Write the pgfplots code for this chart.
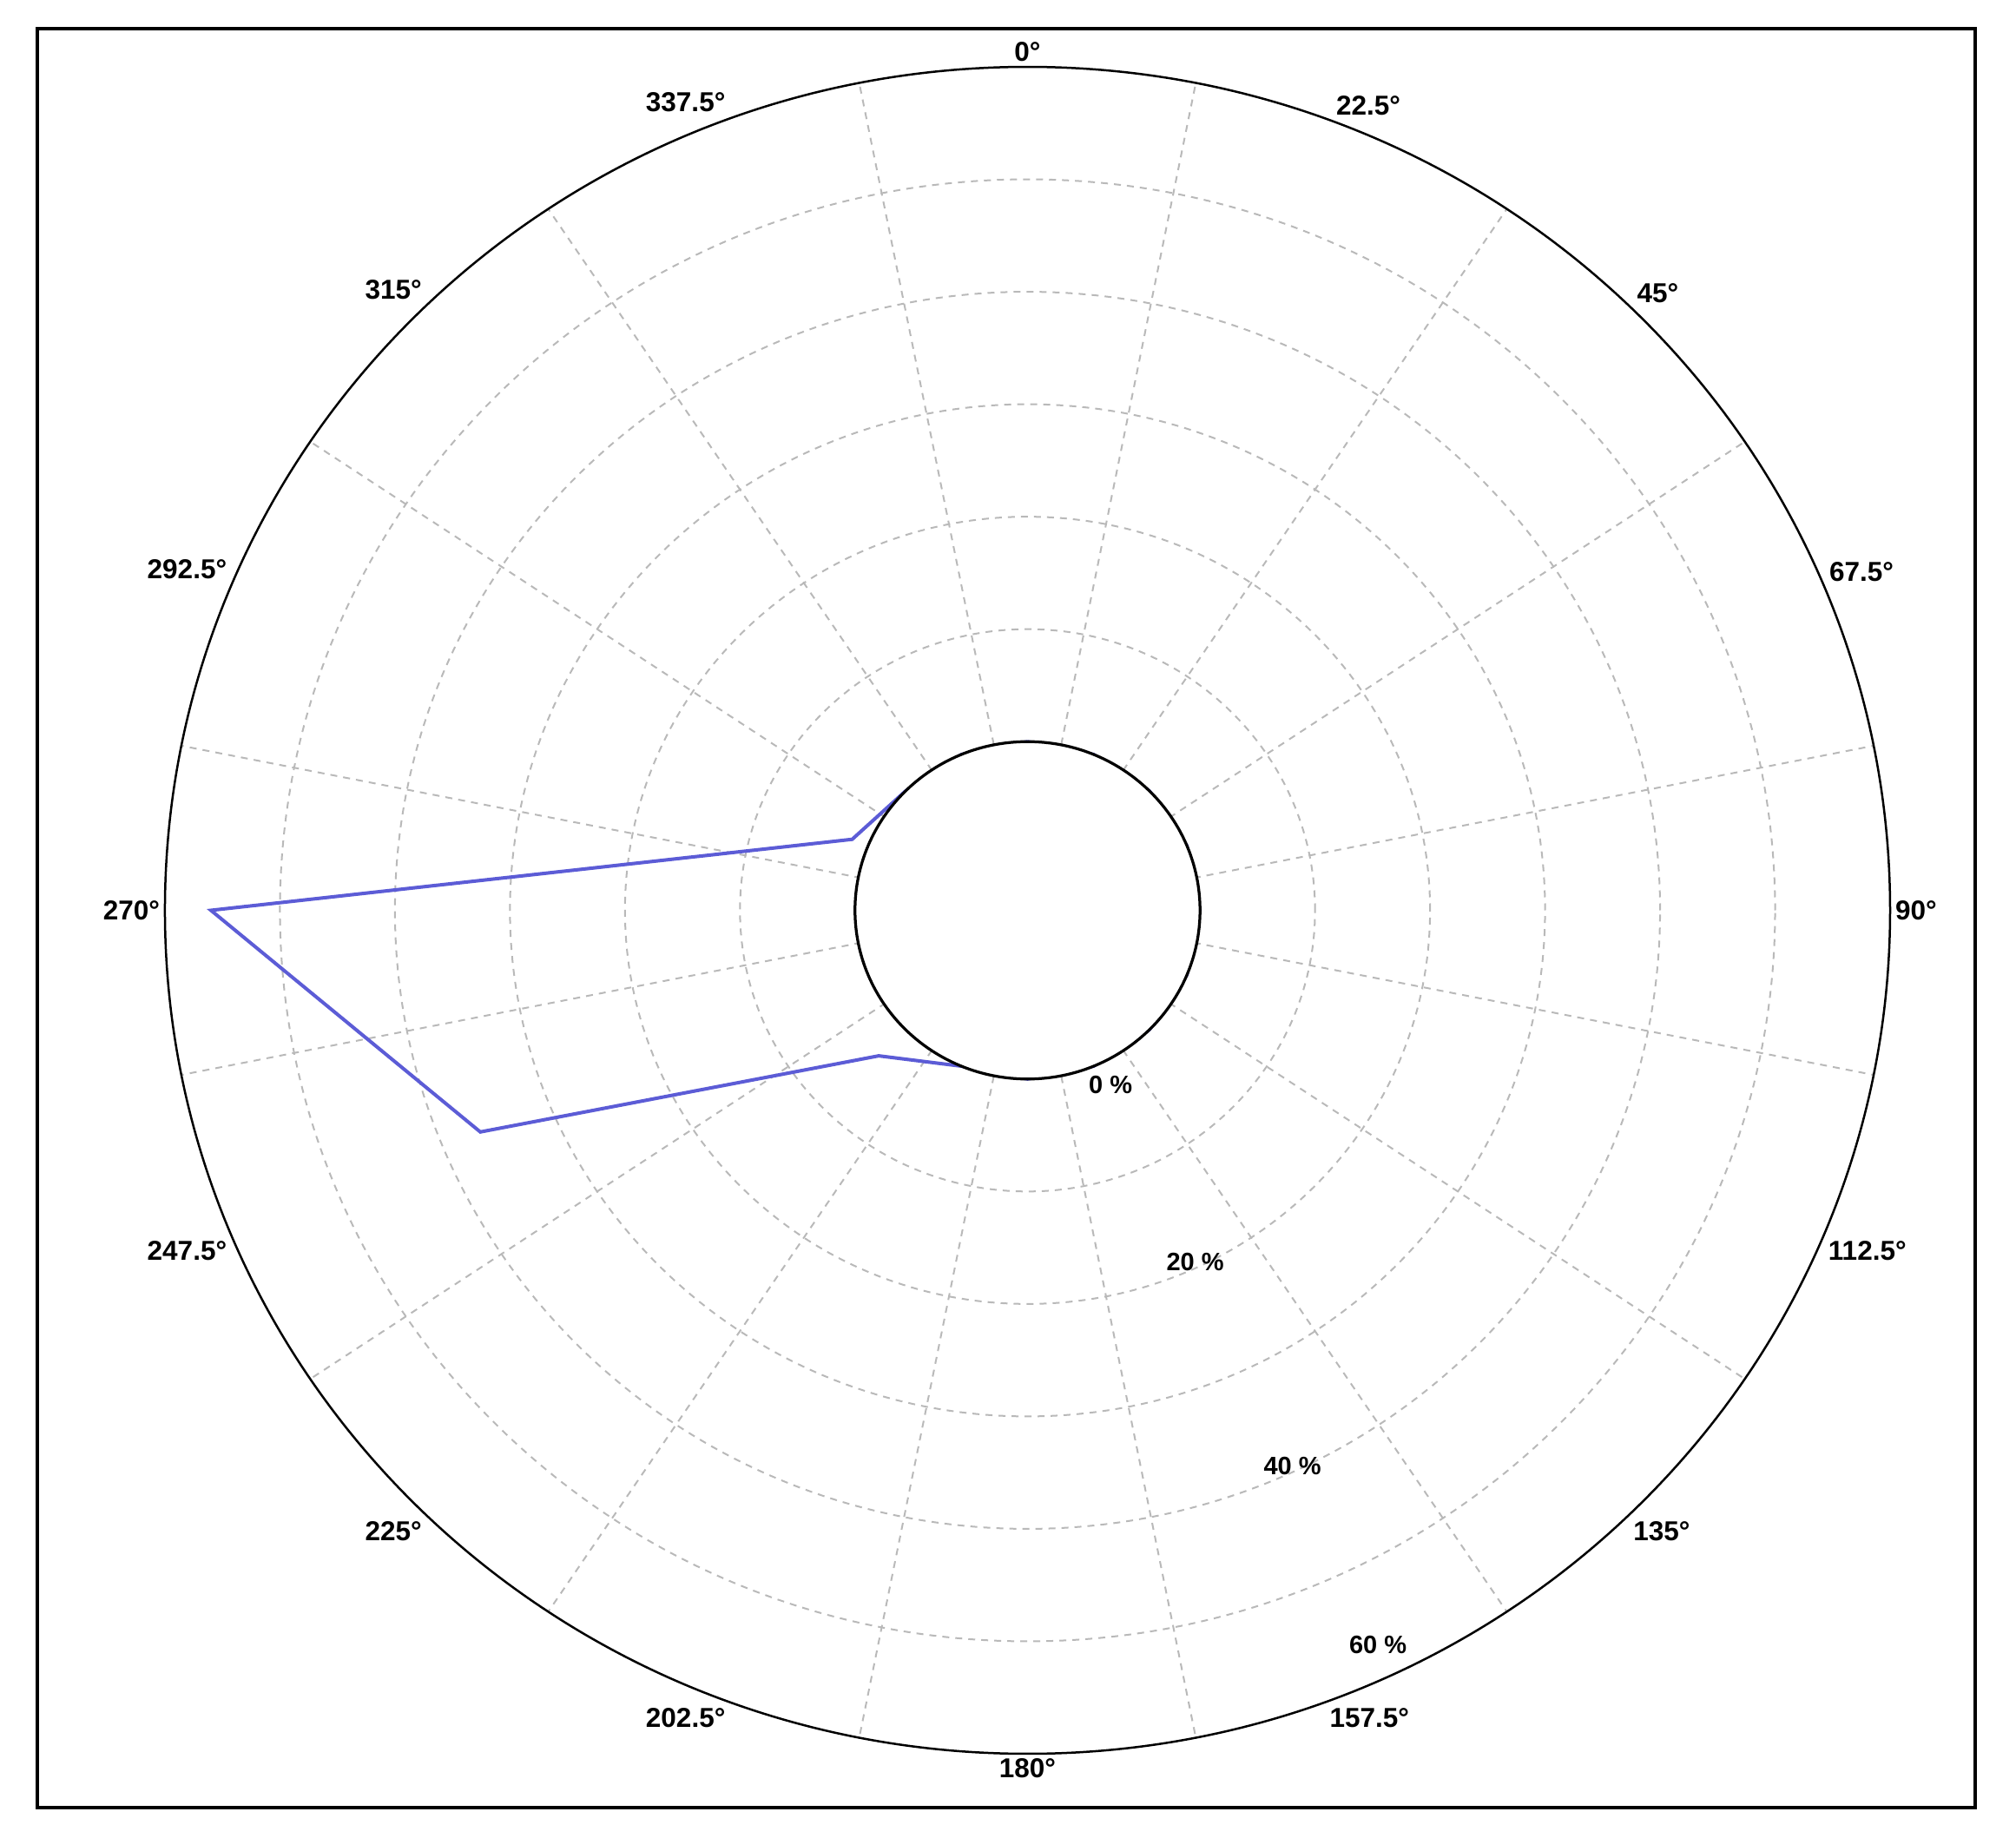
\documentclass[border=0pt]{standalone}
\usepackage{fontspec}
\setmainfont{Liberation Sans}
\usepackage{pgfplots}
\pgfplotsset{compat=1.18}
\usepackage{pgfplotstable}
\usepgfplotslibrary{polar}
\definecolor{lineblue}{RGB}{92,92,214}
\definecolor{gridgray}{RGB}{185,185,185}
% compass angle (clockwise from north, degrees) and value (%)
\pgfplotstableread{
a v
0 0
22.5 0
45 0
67.5 0
90 0
112.5 0
135 0
157.5 0
180 0
202.5 0
225 3.3
247.5 36.5
270 56
292.5 1.5
315 0
337.5 0
360 0
}\datatable
\begin{document}
\begin{tikzpicture}
\path (0,0) rectangle (464.4pt,423.4pt);
\draw[line width=0.9pt] (8.6pt,7pt) rectangle (455pt,416.8pt);
\begin{polaraxis}[
  at={(236.7pt,213.7pt)}, anchor=center,
  scale only axis, width=397.4pt, height=388.6pt,
  xmin=0, xmax=360, ymin=0, ymax=75,
  xtick={0,22.5,45,67.5,90,112.5,135,157.5,180,202.5,225,247.5,270,292.5,315,337.5},
  xticklabels={90°,67.5°,45°,22.5°,0°,337.5°,315°,292.5°,270°,247.5°,225°,202.5°,180°,157.5°,135°,112.5°},
  minor xtick={11.25,33.75,56.25,78.75,101.25,123.75,146.25,168.75,191.25,213.75,236.25,258.75,281.25,303.75,326.25,348.75},
  ytick={25,35,45,55,65}, yticklabels={},
  xmajorgrids=false, xminorgrids=true, ymajorgrids=true,
  grid style={gridgray, dash pattern=on 1.6pt off 1.4pt, line width=0.4pt},
  minor grid style={gridgray, dash pattern=on 1.6pt off 1.4pt, line width=0.4pt},
  major tick length=0pt, minor tick length=0pt,
  x axis line style={line width=0.5pt, black},
  y axis line style={draw=none},
  tick label style={font=\bfseries\fontsize{6.3}{7}\selectfont, inner sep=1pt},
  clip=false,
]
\addplot[lineblue, line width=0.8pt, no markers] table[x expr=90-\thisrow{a}, y expr=\thisrow{v}+15] {\datatable};
\draw[black, line width=0.65pt, fill=white] (axis cs:0,0) ellipse [x radius=39.74pt, y radius=38.86pt];
\node[font=\bfseries\fontsize{5.8}{7}\selectfont] at (axis cs:295,17.1) {0 \%};
\node[font=\bfseries\fontsize{5.8}{7}\selectfont] at (axis cs:295,34.5) {20 \%};
\node[font=\bfseries\fontsize{5.8}{7}\selectfont] at (axis cs:295,54.5) {40 \%};
\node[font=\bfseries\fontsize{5.8}{7}\selectfont] at (axis cs:295,72.1) {60 \%};
\end{polaraxis}
\end{tikzpicture}
\end{document}
